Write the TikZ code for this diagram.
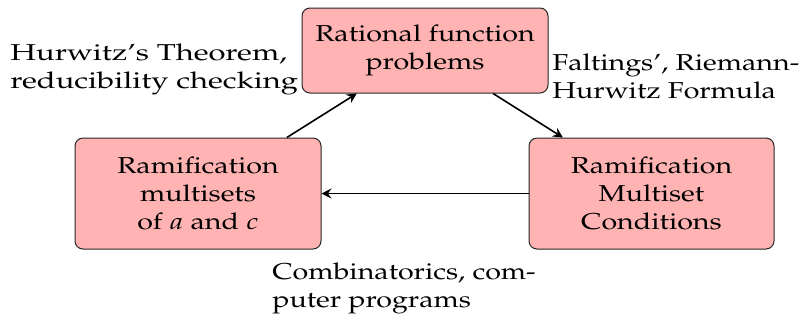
\documentclass[tikz,border=0pt]{standalone}
\usepackage[T1]{fontenc}
\usepackage{mathpazo}
\usepackage{graphicx}
\usetikzlibrary{arrows.meta}
\definecolor{boxfill}{RGB}{255,179,179}
\newcommand{\widetxt}[1]{\scalebox{1.245}[1]{#1}}
\newcommand{\widetxtl}[1]{\scalebox{1.345}[1]{#1}}
\tikzset{
  stagebox/.style={draw=black!85, line width=0.5pt, fill=boxfill, rounded corners=4pt,
    align=center, inner sep=0pt, minimum width=123pt},
  flow/.style={line width=0.8pt, -{Stealth[length=5pt,width=5pt,inset=1.8pt]}},
  note/.style={align=left, inner sep=0pt, anchor=north west}
}
\begin{document}
\begin{tikzpicture}[x=0.5pt,y=-0.5pt]
\fontsize{11.5}{14}\selectfont
\useasboundingbox (0,0) rectangle (808,323);
\node[stagebox, minimum height=42.5pt] (top) at (425,50.5) {\widetxt{Rational function}\\\widetxt{problems}};
\node[stagebox, minimum height=55.5pt] (left) at (198,193.5) {\widetxt{Ramification}\\\widetxt{multisets}\\\widetxt{of $a$ and $c$}};
\node[stagebox, minimum height=55.5pt, minimum width=122.5pt] (right) at (651.5,193.5) {\widetxt{Ramification}\\\widetxt{Multiset}\\\widetxt{Conditions}};
\draw[flow] (left) -- (top);
\draw[flow] (top) -- (right);
\draw[flow] (right) -- (left);
\node[note] (lnote) at (10,43) {\widetxtl{Hurwitz's Theorem,}\\\widetxtl{reducibility checking}};
\node[note] (rnote) at (552,53) {\widetxt{Faltings', Riemann-}\\\widetxt{Hurwitz Formula}};
\node[note] (bnote) at (272,262) {\widetxt{Combinatorics, com-}\\\widetxt{puter programs}};
\end{tikzpicture}
\end{document}
